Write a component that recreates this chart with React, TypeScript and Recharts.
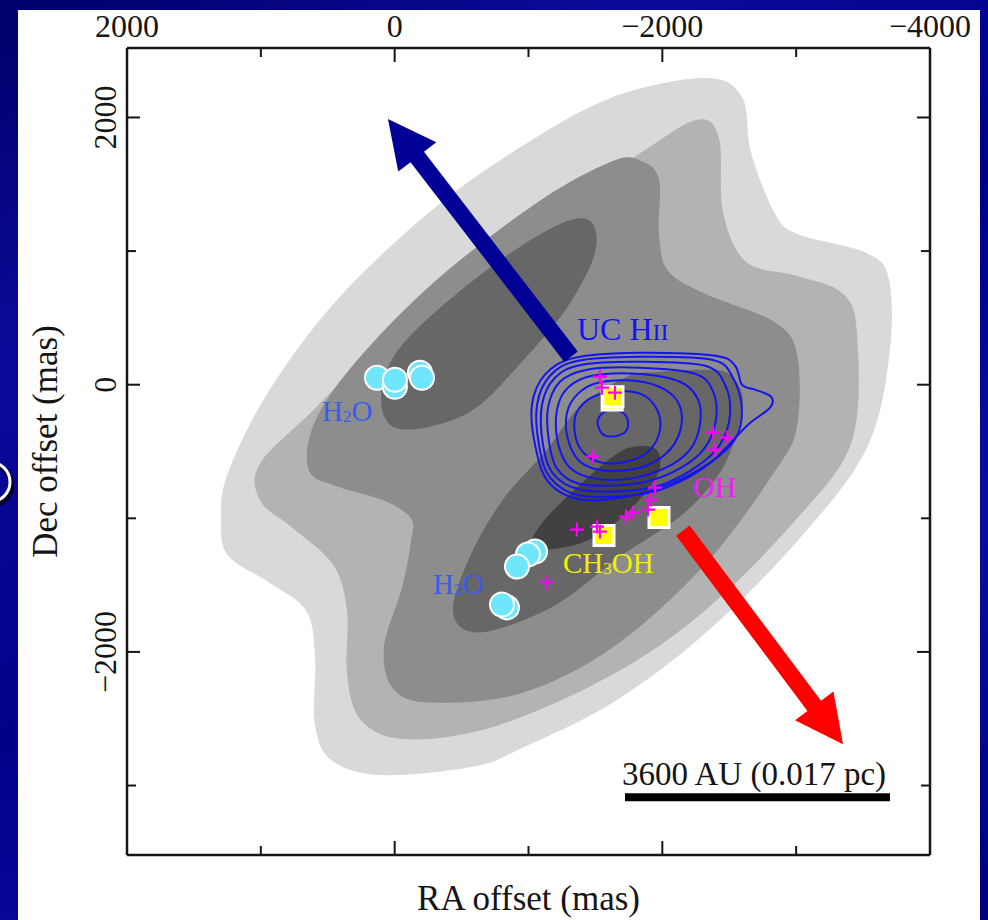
import React from 'react';
import { ScatterChart, Scatter, XAxis, YAxis } from 'recharts';

type Pt = [number, number];

// all positions are RA / Dec offsets in mas
const raDomain: Pt = [-4000, 2000];
const decDomain: Pt = [-3520, 2520];
const raLabels = [2000, 0, -2000, -4000];
const raMajor = [0, -2000];
const raMinor = [1000, -1000, -3000];
const decLabels = [2000, 0, -2000];
const decMinor = [1000, -1000, -3000];

// dust continuum, outer to inner level
const dustLevel1: Pt[] = [
  [-2319, 2295], [-1631, 2153], [-944, 1780], [-264, 1294], [423, 643], [939, -45], [1245, -658],
  [1298, -1002], [1245, -1279], [939, -1480], [662, -1690], [595, -2034], [595, -2550], [461, -2819],
  [80, -2923], [-600, -2856], [-944, -2722], [-1631, -2378], [-2319, -1862], [-3006, -1174],
  [-3522, -486], [-3694, 202], [-3694, 785], [-3522, 987], [-3006, 1129], [-2834, 1294],
  [-2662, 1742], [-2595, 2153],
];
const dustLevel2: Pt[] = [
  [-2252, 1981], [-1803, 1712], [-944, 1159], [-92, 508], [595, -179], [1006, -591], [1006, -867],
  [767, -1069], [461, -1346], [356, -1690], [356, -2168], [251, -2512], [-92, -2654], [-772, -2550],
  [-1631, -2168], [-2319, -1690], [-3006, -1002], [-3417, -419], [-3455, 374], [-3350, 680],
  [-3006, 815], [-2625, 920], [-2453, 1294], [-2423, 1847],
];
const dustLevel3: Pt[] = [
  [-1841, 1675], [-1975, 1540], [-1975, 1129], [-2042, 852], [-2319, 680], [-2834, 471], [-3006, 232],
  [-3006, -314], [-2834, -658], [-2319, -1346], [-1631, -1966], [-944, -2310], [-264, -2378],
  [12, -2273], [80, -1966], [-55, -1518], [-122, -1174], [-122, -1002], [80, -867], [423, -763],
  [633, -658], [633, -381], [461, -45], [80, 404], [-428, 882], [-1116, 1398], [-1631, 1675],
];
const dustLevel4a: Pt[] = [
  [-1459, 1226], [-1497, 987], [-1288, 576], [-944, 164], [-600, -179], [-264, -314], [12, -314],
  [102, -112], [12, 202], [-264, 508], [-772, 920], [-1220, 1196],
];
const dustLevel4b: Pt[] = [
  [-436, -1705], [-638, -1854], [-1183, -1660], [-1684, -1286], [-2132, -987], [-2431, -658],
  [-2580, -284], [-2595, -60], [-2483, 90], [-2304, 112], [-1983, 97], [-1736, 60], [-1385, -164],
  [-1138, -486], [-809, -860], [-563, -1286],
];
const dustLevel5: Pt[] = [
  [-1019, -1196], [-1123, -1009], [-1385, -748], [-1684, -501], [-1908, -464], [-1983, -546],
  [-1945, -710], [-1721, -972], [-1459, -1159], [-1161, -1234],
];

// UC HII radio continuum contours
const ucHii7: Pt[] = [
  [-1026, -150], [-1123, 75], [-1347, 202], [-1833, 239], [-2394, 217], [-2543, 142], [-2595, 0],
  [-2692, -37], [-2812, -90], [-2805, -172], [-2640, -299], [-2483, -464], [-2356, -583],
  [-2080, -733], [-1736, -837], [-1385, -860], [-1146, -725], [-1049, -449],
];
const ucHii6: Pt[] = [
  [-1064, -150], [-1161, 67], [-1370, 179], [-1833, 209], [-2371, 187], [-2528, 52], [-2595, -187],
  [-2543, -411], [-2371, -576], [-2132, -725], [-1833, -822], [-1385, -830], [-1161, -695], [-1078, -449],
];
const ucHii5: Pt[] = [
  [-1101, -150], [-1198, 52], [-1400, 150], [-1833, 172], [-2319, 142], [-2468, 0], [-2506, -224],
  [-2431, -449], [-2267, -606], [-2020, -740], [-1758, -793], [-1385, -785], [-1183, -665], [-1108, -449],
];
const ucHii4: Pt[] = [
  [-1146, -172], [-1235, 22], [-1437, 112], [-1833, 127], [-2244, 82], [-2379, -52], [-2401, -262],
  [-2319, -471], [-2154, -613], [-1908, -718], [-1646, -755], [-1370, -740], [-1213, -628], [-1153, -426],
];
const ucHii3: Pt[] = [
  [-1213, -187], [-1295, -22], [-1474, 67], [-1811, 82], [-2132, 22], [-2267, -112], [-2281, -299],
  [-2207, -486], [-2027, -621], [-1758, -703], [-1497, -703], [-1310, -621], [-1220, -434],
];
const ucHii2: Pt[] = [
  [-1288, -209], [-1370, -67], [-1519, 15], [-1796, 30], [-2020, -37], [-2132, -164], [-2132, -351],
  [-2027, -516], [-1833, -621], [-1572, -643], [-1385, -576], [-1295, -411],
];
const ucHii1: Pt[] = [
  [-1347, -247], [-1445, -112], [-1624, -52], [-1833, -67], [-1953, -172], [-1983, -336],
  [-1893, -501], [-1699, -583], [-1497, -568], [-1370, -449],
];
const ucHii0: Pt[] = [
  [-1519, -262], [-1572, -202], [-1669, -194], [-1736, -247], [-1736, -336], [-1669, -381],
  [-1572, -381], [-1527, -329],
];

// masers
const h2oMasers: Pt[] = [
  [132, 52], [-2, -15], [-2, 37], [-189, 90], [-204, 52],
  [-1049, -1249], [-996, -1271], [-914, -1361], [-839, -1667], [-802, -1645],
];
const ch3ohMasers: Pt[] = [[-1625, -115], [-1631, -90], [-1564, -1129], [-1975, -994]];
const ohMasers: Pt[] = [
  [-1534, 60], [-1549, -22], [-1646, -60], [-1482, -538], [-2379, -359], [-2483, -396], [-2394, -486],
  [-1945, -770], [-1915, -860], [-1893, -935], [-1781, -957], [-1729, -987], [-1534, -1099],
  [-1512, -1062], [-1362, -1084], [-1138, -1480],
];

// outflow lobes: tail, tip
const blueLobe: Pt[] = [[-1318, 209], [50, 1989]];
const redLobe: Pt[] = [[-2154, -1092], [-3350, -2692]];
const scaleBar: Pt[] = [[-1721, -3088], [-3701, -3088]];

const ucHiiLabel: Pt = [-1362, 336];
const h2oLabels: Pt[] = [[543, -269], [-286, -1563]];
const ch3ohLabel: Pt = [-1258, -1406];
const ohLabel: Pt = [-2229, -837];
const scaleLabel: Pt = [-1699, -2998];

const SERIF = '"Liberation Serif", "Times New Roman", serif';
const INK = '#151515';

const toData = (pts: Pt[]) => pts.map(([x, y]) => ({ x, y }));
const fmt = (v: number) => (v < 0 ? `\u2212${Math.abs(v)}` : `${v}`);

function closedPath(pts: { x: number; y: number }[]) {
  const n = pts.length;
  let d = `M${pts[0].x},${pts[0].y}`;
  for (let i = 0; i < n; i++) {
    const p0 = pts[(i - 1 + n) % n];
    const p1 = pts[i];
    const p2 = pts[(i + 1) % n];
    const p3 = pts[(i + 2) % n];
    const c1x = p1.x + (p2.x - p0.x) / 6;
    const c1y = p1.y + (p2.y - p0.y) / 6;
    const c2x = p2.x - (p3.x - p1.x) / 6;
    const c2y = p2.y - (p3.y - p1.y) / 6;
    d += ` C${c1x},${c1y} ${c2x},${c2y} ${p2.x},${p2.y}`;
  }
  return d + 'Z';
}

const fillLine = (fill: string) => (p: any) => <path d={closedPath(p.points)} fill={fill} stroke="none" />;
const contourLine = (p: any) => (
  <path d={closedPath(p.points)} fill="none" stroke="#1414f0" strokeWidth={2} />
);
const noShape = () => <g />;
const noTick = () => <g />;

const arrowLine = (color: string) => (p: any) => {
  const [a, b] = p.points;
  const dx = b.x - a.x;
  const dy = b.y - a.y;
  const len = Math.hypot(dx, dy);
  const ux = dx / len;
  const uy = dy / len;
  const nx = -uy;
  const ny = ux;
  const head = 48;
  const hw = 24;
  const sw = 8.5;
  const bx = b.x - ux * head;
  const by = b.y - uy * head;
  const pts = [
    [a.x + nx * sw, a.y + ny * sw],
    [bx + nx * sw, by + ny * sw],
    [bx + nx * hw, by + ny * hw],
    [b.x, b.y],
    [bx - nx * hw, by - ny * hw],
    [bx - nx * sw, by - ny * sw],
    [a.x - nx * sw, a.y - ny * sw],
  ];
  return <polygon points={pts.map((q) => q.join(',')).join(' ')} fill={color} />;
};

const barLine = (p: any) => {
  const [a, b] = p.points;
  return <line x1={a.x} y1={a.y} x2={b.x} y2={b.y} stroke="#000" strokeWidth={8} />;
};

function DecTick(props: any) {
  const { x, y, payload } = props;
  return (
    <text
      x={x}
      y={y}
      transform={`rotate(-90 ${x} ${y})`}
      textAnchor="middle"
      fontSize={32}
      fontFamily={SERIF}
      fill={INK}
    >
      {fmt(payload.value)}
    </text>
  );
}

function DecTitle(props: any) {
  const vb = props.viewBox || { x: 10, y: 48, width: 117, height: 807 };
  const x = vb.x + 47;
  const y = vb.y + vb.height / 2 - 10;
  return (
    <text x={x} y={y} transform={`rotate(-90 ${x} ${y})`} textAnchor="middle" fontSize={35} fontFamily={SERIF} fill={INK}>
      Dec offset (mas)
    </text>
  );
}

const tickStroke = { stroke: INK, strokeWidth: 2 };
const borderStroke = { stroke: INK, strokeWidth: 2.5 };

// inward tick marks: [orientation, ticks, length]
const xTickSets: [string, number[], number][] = [
  ['top', raMajor, 14],
  ['top', raMinor, 8],
  ['bottom', raMajor, 14],
  ['bottom', raMinor, 8],
];
const yTickSets: [string, number[], number][] = [
  ['left', decLabels, 13],
  ['left', decMinor, 8],
  ['right', decLabels, 13],
  ['right', decMinor, 8],
];

export default function App() {
  const s = { xAxisId: 'ra', yAxisId: 'dec', isAnimationActive: false, shape: noShape };
  // the dust layers are tied to the tick-mark axes (same domain) so those axes get a scale
  const on = (i: number) => ({ ...s, xAxisId: `xm${i}`, yAxisId: `ym${i}` });
  return (
    <div
      style={{
        position: 'absolute',
        left: 0,
        top: 0,
        width: 988,
        height: 920,
        overflow: 'hidden',
        background: 'linear-gradient(150deg, #00006a 0%, #0a0a9a 25%, #000088 50%, #0c0ca4 72%, #00007c 100%)',
      }}
    >
      <svg style={{ position: 'absolute', left: 0, top: 0 }} width={40} height={920}>
        <circle cx={-8} cy={485} r={20} fill="none" stroke="#000" strokeWidth={5} opacity={0.7} />
        <circle cx={-10} cy={482} r={20} fill="none" stroke="#fff" strokeWidth={3} />
      </svg>
      <div style={{ position: 'absolute', left: 18, top: 10, width: 962, height: 910, background: '#fff' }} />
      <div style={{ position: 'absolute', left: 0, top: 0 }}>
        <ScatterChart width={988} height={920} margin={{ top: 8, right: 58, bottom: 0, left: 10 }}>
          <Scatter {...on(0)} data={toData(dustLevel1)} line={fillLine('#d9d9d9')} />
          <Scatter {...on(1)} data={toData(dustLevel2)} line={fillLine('#b3b3b3')} />
          <Scatter {...on(2)} data={toData(dustLevel3)} line={fillLine('#8d8d8d')} />
          <Scatter {...on(3)} data={toData(dustLevel4a)} line={fillLine('#676767')} />
          <Scatter {...s} data={toData(dustLevel4b)} line={fillLine('#676767')} />
          <Scatter {...s} data={toData(dustLevel5)} line={fillLine('#414141')} />

          {[ucHii7, ucHii6, ucHii5, ucHii4, ucHii3, ucHii2, ucHii1, ucHii0].map((c, i) => (
            <Scatter key={`uc${i}`} {...s} data={toData(c)} line={contourLine} />
          ))}

          <Scatter {...s} data={toData(blueLobe)} line={arrowLine('#000096')} />
          <Scatter {...s} data={toData(redLobe)} line={arrowLine('#ff0000')} />
          <Scatter {...s} data={toData(scaleBar)} line={barLine} />

          <Scatter
            {...s}
            data={toData(h2oMasers)}
            shape={(p: any) => <circle cx={p.cx} cy={p.cy} r={12} fill="#6fe6fb" stroke="#fff" strokeWidth={2} />}
          />
          <Scatter
            {...s}
            data={toData(ch3ohMasers)}
            shape={(p: any) => (
              <rect x={p.cx - 10} y={p.cy - 10} width={20} height={20} fill="#ffff00" stroke="#fff" strokeWidth={3} />
            )}
          />
          <Scatter
            {...s}
            data={toData(ohMasers)}
            shape={(p: any) => (
              <path
                d={`M${p.cx - 7},${p.cy}H${p.cx + 7}M${p.cx},${p.cy - 7}V${p.cy + 7}`}
                stroke="#ff00ff"
                strokeWidth={2.2}
              />
            )}
          />

          <Scatter
            {...s}
            data={toData([ucHiiLabel])}
            shape={(p: any) => (
              <text x={p.cx} y={p.cy} fontFamily={SERIF} fontSize={32} fill="#1414f0">
                UC H<tspan fontSize={24}>II</tspan>
              </text>
            )}
          />
          <Scatter
            {...s}
            data={toData(h2oLabels)}
            shape={(p: any) => (
              <text x={p.cx} y={p.cy} fontFamily={SERIF} fontSize={29} fill="#3a5cec">
                H<tspan fontSize={17} dy={1}>2</tspan>
                <tspan dy={-1}>O</tspan>
              </text>
            )}
          />
          <Scatter
            {...s}
            data={toData([ch3ohLabel])}
            shape={(p: any) => (
              <text x={p.cx} y={p.cy} fontFamily={SERIF} fontSize={29} fill="#f0f000">
                CH<tspan fontSize={17} dy={1}>3</tspan>
                <tspan dy={-1}>OH</tspan>
              </text>
            )}
          />
          <Scatter
            {...s}
            data={toData([ohLabel])}
            shape={(p: any) => (
              <text x={p.cx} y={p.cy} fontFamily={SERIF} fontSize={30} fill="#ee22ee">
                OH
              </text>
            )}
          />
          <Scatter
            {...s}
            data={toData([scaleLabel])}
            shape={(p: any) => (
              <text x={p.cx} y={p.cy} fontFamily={SERIF} fontSize={33} fill={INK}>
                3600 AU (0.017 pc)
              </text>
            )}
          />

          <XAxis
            xAxisId="ra"
            dataKey="x"
            type="number"
            orientation="top"
            height={40}
            domain={raDomain}
            reversed
            allowDataOverflow
            ticks={raLabels}
            interval={0}
            tickFormatter={fmt}
            tickLine={false}
            tickSize={0}
            tickMargin={11}
            axisLine={borderStroke}
            tick={{ fontSize: 32, fontFamily: SERIF, fill: INK }}
          />
          <XAxis
            xAxisId="raTitle"
            type="number"
            orientation="bottom"
            height={65}
            domain={raDomain}
            reversed
            allowDataOverflow
            ticks={raMajor}
            tick={false}
            tickLine={false}
            axisLine={borderStroke}
            label={{
              value: 'RA offset (mas)',
              position: 'insideBottom',
              offset: 10,
              fontSize: 35,
              fontFamily: SERIF,
              fill: INK,
            }}
          />
          {xTickSets.map(([o, t, size], i) => (
            <XAxis
              key={`xm${i}`}
              xAxisId={`xm${i}`}
              dataKey="x"
              type="number"
              orientation={o as any}
              mirror
              height={1}
              domain={raDomain}
              reversed
              allowDataOverflow
              ticks={t}
              interval={0}
              tick={noTick}
              tickSize={size}
              tickLine={tickStroke}
              axisLine={false}
            />
          ))}

          <YAxis
            yAxisId="dec"
            dataKey="y"
            type="number"
            width={117}
            domain={decDomain}
            allowDataOverflow
            ticks={decLabels}
            interval={0}
            tickLine={false}
            tickSize={0}
            tickMargin={11}
            axisLine={borderStroke}
            tick={DecTick}
            label={{ position: 'center', content: DecTitle }}
          />
          {yTickSets.map(([o, t, size], i) => (
            <YAxis
              key={`ym${i}`}
              yAxisId={`ym${i}`}
              dataKey="y"
              type="number"
              orientation={o as any}
              mirror
              width={1}
              domain={decDomain}
              allowDataOverflow
              ticks={t}
              interval={0}
              tick={noTick}
              tickSize={size}
              tickLine={tickStroke}
              axisLine={i === 2 ? borderStroke : false}
            />
          ))}
        </ScatterChart>
      </div>
    </div>
  );
}
